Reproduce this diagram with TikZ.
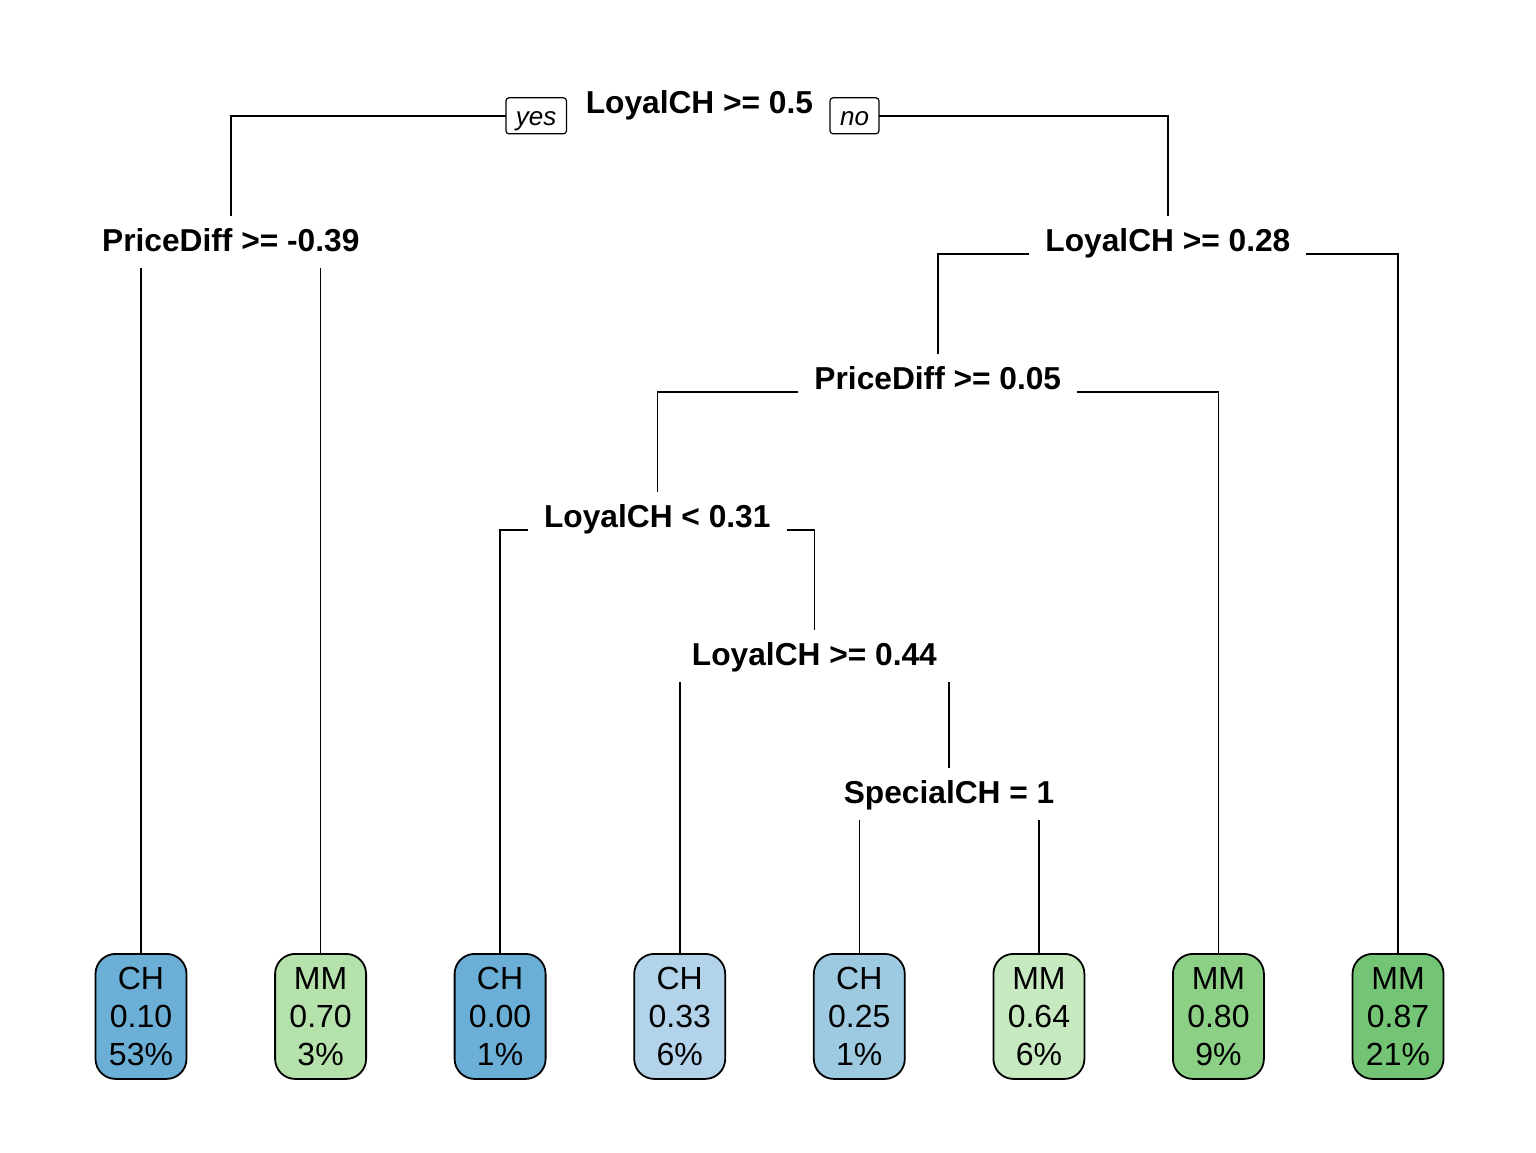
\documentclass[tikz,border=0pt]{standalone}
\usepackage{fontspec}
\setmainfont{Liberation Sans}
\usetikzlibrary{backgrounds}
\definecolor{chdeep}{HTML}{6BAED6}
\definecolor{chmid}{HTML}{9ECAE1}
\definecolor{chlight}{HTML}{B2D3E9}
\definecolor{mmlight}{HTML}{C7E9C0}
\definecolor{mmpale}{HTML}{B5E1AA}
\definecolor{mmmid}{HTML}{8CD085}
\definecolor{mmdeep}{HTML}{74C476}
\begin{document}
\begin{tikzpicture}[x=1pt,y=-1pt,
  splitbox/.style={fill=white, inner xsep=16pt, inner ysep=0pt, minimum height=52pt,
    text height=23pt, text depth=4pt,
    font=\fontsize{31.7}{38}\selectfont\bfseries},
  leafbox/.style={draw, line width=1.8pt, rounded corners=20pt, minimum width=91pt,
    minimum height=125pt, inner sep=0pt, align=center, anchor=north,
    font=\fontsize{32}{38}\selectfont},
  tagbox/.style={draw, fill=white, line width=1.2pt, rounded corners=3pt,
    minimum height=36pt, inner xsep=10pt, inner ysep=0pt,
    text height=19pt, text depth=0pt,
    font=\fontsize{26}{30}\selectfont\itshape},
  branch/.style={line width=1.6pt}]
\useasboundingbox (0,0) rectangle (1536,1152);

% leaves
\node[leafbox, fill=chdeep]  (l1) at (141,953)    {CH\\0.10\\53\%};
\node[leafbox, fill=mmpale]  (l2) at (320.6,953)  {MM\\0.70\\3\%};
\node[leafbox, fill=chdeep]  (l3) at (500.1,953)  {CH\\0.00\\1\%};
\node[leafbox, fill=chlight] (l4) at (679.7,953)  {CH\\0.33\\6\%};
\node[leafbox, fill=chmid]   (l5) at (859.3,953)  {CH\\0.25\\1\%};
\node[leafbox, fill=mmlight] (l6) at (1038.9,953) {MM\\0.64\\6\%};
\node[leafbox, fill=mmmid]   (l7) at (1218.4,953) {MM\\0.80\\9\%};
\node[leafbox, fill=mmdeep]  (l8) at (1398,953)   {MM\\0.87\\21\%};

% splits
\node[splitbox, minimum width=264pt] (n1) at (699.4,104) {LoyalCH >= 0.5};
\node[splitbox] (n2) at (230.8,242) {PriceDiff >= -0.39};
\node[splitbox] (n3) at (1167.9,242) {LoyalCH >= 0.28};
\node[splitbox] (n4) at (937.8,380) {PriceDiff >= 0.05};
\node[splitbox] (n5) at (657.3,518) {LoyalCH < 0.31};
\node[splitbox] (n6) at (814.4,656) {LoyalCH >= 0.44};
\node[splitbox] (n7) at (949.1,794) {SpecialCH = 1};

\node[tagbox] (yes) at (536.2,115.8) {yes};
\node[tagbox] (no)  at (854.5,115.8) {no};

\begin{scope}[on background layer]
  \draw[branch] ([yshift=-12pt]n1.center) -| (n2.north);
  \draw[branch] ([yshift=-12pt]n1.center) -| (n3.north);
  \draw[branch] ([yshift=-12pt]n2.center) -| (l1.north);
  \draw[branch] ([yshift=-12pt]n2.center) -| (l2.north);
  \draw[branch] ([yshift=-12pt]n3.center) -| (n4.north);
  \draw[branch] ([yshift=-12pt]n3.center) -| (l8.north);
  \draw[branch] ([yshift=-12pt]n4.center) -| (n5.north);
  \draw[branch] ([yshift=-12pt]n4.center) -| (l7.north);
  \draw[branch] ([yshift=-12pt]n5.center) -| (l3.north);
  \draw[branch] ([yshift=-12pt]n5.center) -| (n6.north);
  \draw[branch] ([yshift=-12pt]n6.center) -| (l4.north);
  \draw[branch] ([yshift=-12pt]n6.center) -| (n7.north);
  \draw[branch] ([yshift=-12pt]n7.center) -| (l5.north);
  \draw[branch] ([yshift=-12pt]n7.center) -| (l6.north);
\end{scope}
\end{tikzpicture}
\end{document}
